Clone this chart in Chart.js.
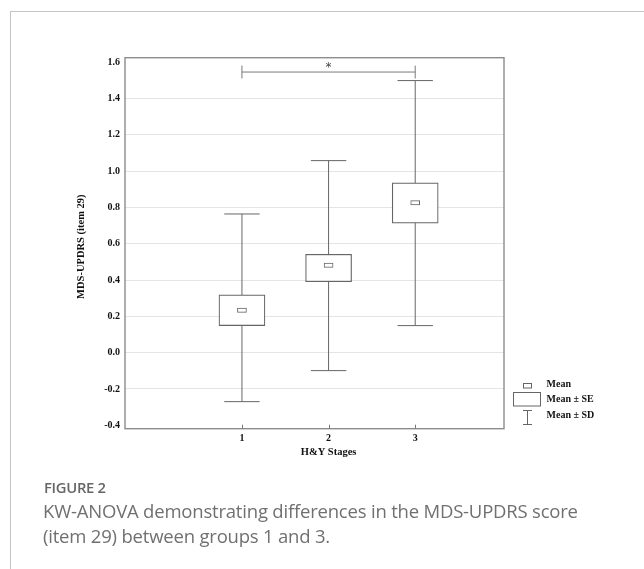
<!DOCTYPE html>
<html><head><meta charset="utf-8">
<script src="https://cdn.jsdelivr.net/npm/chart.js@4/dist/chart.umd.min.js"></script>
<style>
html,body{margin:0;padding:0;background:#fff;width:644px;height:569px;overflow:hidden}
#wrap{position:absolute;left:0;top:0;width:644px;height:569px}
#card{position:absolute;left:10px;top:11px;width:640px;height:570px;border-left:1px solid #c4c4c4;border-top:1px solid #c4c4c4}
canvas{position:absolute;left:0;top:0}
.fig{position:absolute;left:44px;top:477px;font-family:"Open Sans",sans-serif;font-weight:600;font-size:14.8px;color:#666;letter-spacing:-0.3px}
.cap{position:absolute;left:43px;top:498px;font-family:"Open Sans",sans-serif;font-size:18.5px;line-height:25px;color:#707070;white-space:nowrap;letter-spacing:-0.2px}
</style></head>
<body><div id="wrap"><div id="card"></div>
<canvas id="c" width="644" height="569"></canvas>
<div class="fig">FIGURE 2</div>
<div class="cap">KW-ANOVA demonstrating differences in the MDS-UPDRS score<br>(item 29) between groups 1 and 3.</div>
</div>
<script>
const stages = [1, 2, 3];
const means  = [0.234, 0.482, 0.826];
const seLow  = [0.149, 0.391, 0.713];
const seHigh = [0.318, 0.542, 0.935];
const sdLow  = [-0.270, -0.099, 0.149];
const sdHigh = [0.764, 1.058, 1.499];
const yTicks = [-0.4, -0.2, 0.0, 0.2, 0.4, 0.6, 0.8, 1.0, 1.2, 1.4, 1.6];
const bracketFrom = 1, bracketTo = 3, bracketY = 1.546;
const yLabel = 'MDS-UPDRS (item 29)';
const xLabel = 'H&Y Stages';

const LINE = '#666';
const SERIF = '"Liberation Serif","Times New Roman",serif';
const MEAN_HALF = 0.012;

const whiskerSets = stages.map((s, i) => ({
  type: 'line', order: 5,
  data: [{x: s, y: sdLow[i]}, {x: s, y: sdHigh[i]}],
  borderColor: LINE, borderWidth: 1, pointRadius: 0, fill: false
}));

const chart = new Chart(document.getElementById('c'), {
  type: 'bar',
  data: {
    datasets: [
      {
        type: 'bar', order: 1, grouped: false,
        data: stages.map((s, i) => ({x: s, y: [means[i] - MEAN_HALF, means[i] + MEAN_HALF]})),
        backgroundColor: '#fff', borderColor: LINE, borderWidth: 1, borderSkipped: false, barThickness: 9
      },
      {
        type: 'bar', order: 2, grouped: false,
        data: stages.map((s, i) => ({x: s, y: [seLow[i], seHigh[i]]})),
        backgroundColor: '#fff', borderColor: LINE, borderWidth: 1.2, borderSkipped: false, barThickness: 46
      },
      {
        type: 'line', order: 3, showLine: false,
        data: stages.map((s, i) => ({x: s, y: sdHigh[i]})).concat(stages.map((s, i) => ({x: s, y: sdLow[i]}))),
        pointStyle: 'line', pointRadius: 17.7, pointBorderColor: LINE, pointBorderWidth: 1, pointBackgroundColor: LINE
      },
      {
        type: 'line', order: 4,
        data: [{x: bracketFrom, y: bracketY}, {x: bracketTo, y: bracketY}],
        borderColor: '#7a7a7a', borderWidth: 1,
        pointStyle: 'line', pointRotation: 90, pointRadius: 6.4, pointBorderColor: '#7a7a7a', pointBorderWidth: 1
      },
      ...whiskerSets
    ]
  },
  options: {
    responsive: false, animation: false, events: [],
    layout: {padding: {top: 57.7, right: 140, left: 0, bottom: 0}},
    plugins: {legend: {display: false}, tooltip: {enabled: false}},
    scales: {
      x: {
        type: 'linear', min: -0.35, max: 4.025, offset: false,
        afterFit: s => { s.height = 569 - 428.7; },
        afterBuildTicks: s => { s.ticks = stages.map(v => ({value: v})); },
        grid: {display: false, drawTicks: false},
        border: {display: false},
        ticks: {padding: 4, color: '#111', font: {family: SERIF, weight: 'bold', size: 10}, callback: v => String(v)}
      },
      y: {
        type: 'linear', min: -0.419, max: 1.625,
        afterFit: s => { s.width = 125; },
        afterBuildTicks: s => { s.ticks = yTicks.map(v => ({value: v})); },
        grid: {drawTicks: false, color: ctx => (ctx.tick && (ctx.tick.value === -0.4 || ctx.tick.value === 1.6)) ? 'rgba(0,0,0,0)' : '#e4e4e4', lineWidth: 1},
        border: {display: false},
        ticks: {padding: 5, color: '#111', font: {family: SERIF, weight: 'bold', size: 10}, callback: v => v.toFixed(1)}
      }
    }
  },
  plugins: [{
    id: 'decor',
    afterDatasetsDraw(ch) {
      const ctx = ch.ctx, a = ch.chartArea, xs = ch.scales.x, ys = ch.scales.y;
      ctx.save();
      ctx.strokeStyle = '#8c8c8c'; ctx.lineWidth = 1.4;
      ctx.strokeRect(a.left, a.top, a.right - a.left, a.bottom - a.top);
      ctx.strokeStyle = '#777'; ctx.lineWidth = 1;
      stages.forEach(s => {
        const px = Math.round(xs.getPixelForValue(s)) + 0.5;
        ctx.beginPath(); ctx.moveTo(px, a.bottom - 4); ctx.lineTo(px, a.bottom); ctx.stroke();
      });
      ctx.fillStyle = '#444'; ctx.font = '12px "DejaVu Sans",sans-serif';
      ctx.textAlign = 'center'; ctx.textBaseline = 'middle';
      ctx.fillText('*', xs.getPixelForValue((bracketFrom + bracketTo) / 2), ys.getPixelForValue(bracketY) - 4);
      ctx.fillStyle = '#111'; ctx.font = 'bold 10.5px ' + SERIF;
      ctx.fillText(xLabel, xs.getPixelForValue(2), 452);
      ctx.save(); ctx.translate(81, 246.7); ctx.rotate(-Math.PI / 2);
      ctx.fillText(yLabel, 0, 0); ctx.restore();
      ctx.strokeStyle = LINE; ctx.lineWidth = 1;
      ctx.strokeRect(523.5, 383.5, 8, 4.5);
      ctx.strokeRect(513.5, 392.5, 27, 13.5);
      ctx.beginPath();
      ctx.moveTo(527.5, 410); ctx.lineTo(527.5, 424.5);
      ctx.moveTo(523, 410.5); ctx.lineTo(532, 410.5);
      ctx.moveTo(523, 424.5); ctx.lineTo(532, 424.5);
      ctx.stroke();
      ctx.textAlign = 'left'; ctx.font = 'bold 10px ' + SERIF;
      ctx.fillText('Mean', 546.5, 384);
      ctx.fillText('Mean \u00B1 SE', 546.5, 399.7);
      ctx.fillText('Mean \u00B1 SD', 546.5, 415.3);
      ctx.restore();
    }
  }]
});
</script></body></html>
